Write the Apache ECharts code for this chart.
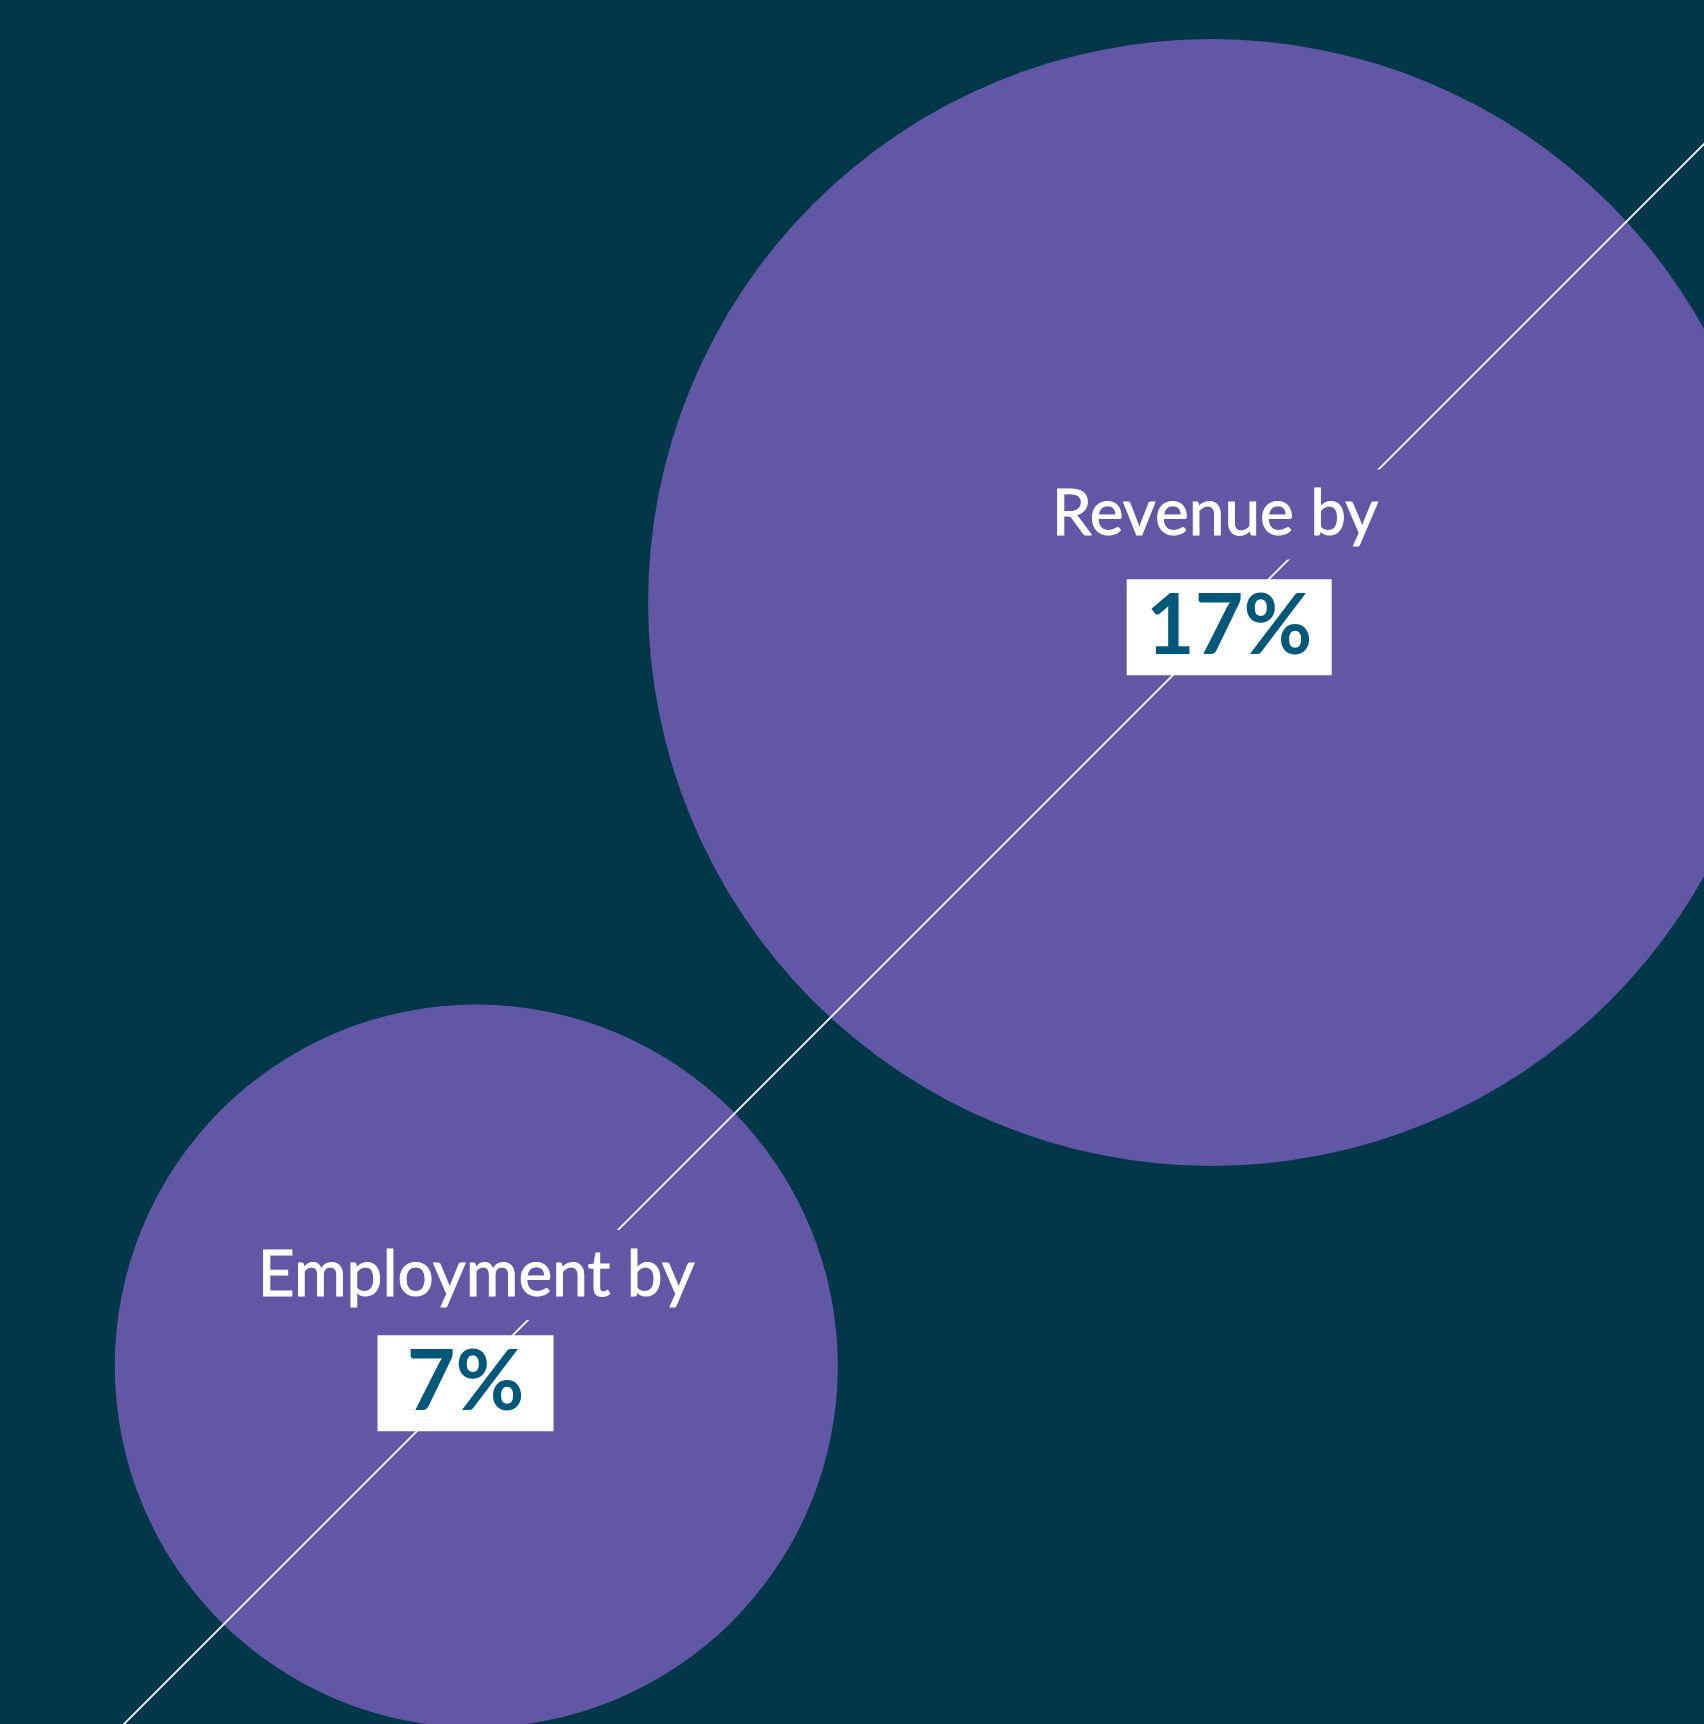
<!DOCTYPE html>
<html>
<head>
<meta charset="utf-8">
<style>
  html, body { margin: 0; padding: 0; background: #02374a; }
  #chart { width: 1704px; height: 1724px; }
</style>
<script src="https://cdn.jsdelivr.net/npm/echarts@6/dist/echarts.min.js"></script>
</head>
<body>
<div id="chart"></div>
<script>
// ---- data ----
const categories = ['Revenue by', 'Employment by'];
const values = [17, 7];
const valueLabels = ['17%', '7%'];

// ---- layout (axis units equal canvas pixels) ----
const W = 1704, H = 1724;
const centers = [[1211.5, 602.5], [476.3, 1366]];
const titleOffsets = [[3.5, -88], [0, -91]];
const valueOffsets = [[17.7, 24.8], [-10.8, 17.3]];
const valueBoxWidths = [205, 176];
const diagonal = [[0, 1848], [1848, 0]];
const SIZE_PER_SQRT = 273.3; // bubble diameter per sqrt(value)

// ---- style ----
const BG = '#02374a';
const PURPLE = '#6257a4';
const TEAL = '#03587a';
const FONT = 'Lato, "Noto Sans", sans-serif';

const chart = echarts.init(document.getElementById('chart'), null, { renderer: 'canvas' });

const option = {
  backgroundColor: BG,
  animation: false,
  grid: { left: 0, right: 0, top: 0, bottom: 0 },
  xAxis: { type: 'value', min: 0, max: W, show: false },
  yAxis: { type: 'value', min: 0, max: H, inverse: true, show: false },
  series: [
    {
      name: 'bubbles',
      type: 'scatter',
      z: 2,
      silent: true,
      symbol: 'circle',
      symbolSize: function (v) { return SIZE_PER_SQRT * Math.sqrt(v[2]); },
      itemStyle: { color: PURPLE, opacity: 1 },
      data: centers.map((c, i) => [c[0], c[1], values[i]])
    },
    {
      name: 'diagonal',
      type: 'line',
      z: 3,
      silent: true,
      symbol: 'none',
      lineStyle: { color: '#ffffff', width: 1.8, opacity: 1 },
      data: diagonal
    },
    {
      name: 'titles',
      type: 'scatter',
      z: 4,
      silent: true,
      symbolSize: 1,
      itemStyle: { color: 'rgba(0,0,0,0)', opacity: 1 },
      label: {
        show: true,
        position: 'inside',
        formatter: function (p) { return categories[p.dataIndex]; },
        color: '#ffffff',
        fontFamily: FONT,
        fontSize: 64,
        lineHeight: 64,
        textBorderColor: '#ffffff',
        textBorderWidth: 0.9,
        backgroundColor: PURPLE,
        padding: [13, 42]
      },
      data: centers.map((c, i) => ({ value: [c[0], c[1]], label: { offset: titleOffsets[i] } }))
    },
    {
      name: 'values',
      type: 'scatter',
      z: 5,
      silent: true,
      symbolSize: 1,
      itemStyle: { color: 'rgba(0,0,0,0)', opacity: 1 },
      label: {
        show: true,
        position: 'inside',
        formatter: function (p) { return valueLabels[p.dataIndex]; },
        color: TEAL,
        fontFamily: FONT,
        fontWeight: 'bold',
        fontSize: 84,
        lineHeight: 96,
        align: 'center',
        backgroundColor: '#ffffff',
        padding: 0
      },
      data: centers.map((c, i) => ({
        value: [c[0], c[1]],
        label: { offset: valueOffsets[i], width: valueBoxWidths[i] }
      }))
    }
  ]
};

chart.setOption(option);
</script>
</body>
</html>
